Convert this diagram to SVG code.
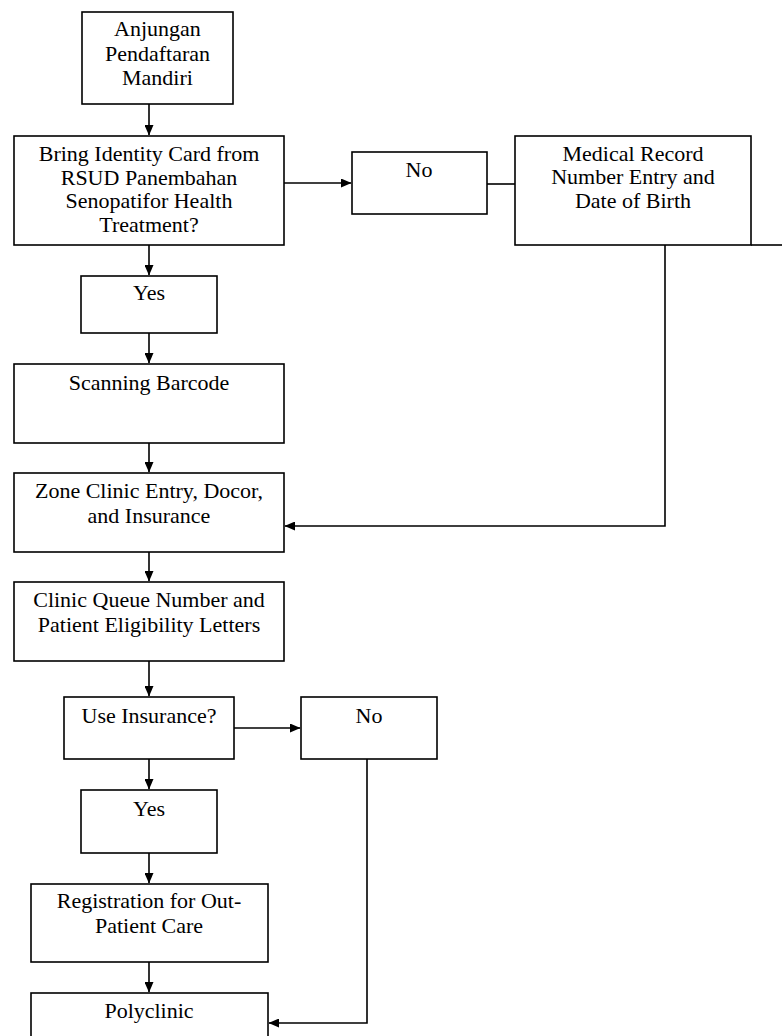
<svg xmlns="http://www.w3.org/2000/svg" width="782" height="1036" viewBox="0 0 782 1036">
<style>
.box{fill:#fff;stroke:#000;stroke-width:1.6}
.t{font-family:"Liberation Serif","Times New Roman",serif;font-size:22px;fill:#000;text-anchor:middle}
.c{fill:none;stroke:#000;stroke-width:1.6}
</style>
<defs>
<marker id="ah" markerUnits="userSpaceOnUse" markerWidth="11" markerHeight="9" refX="10" refY="4.5" orient="auto">
<path d="M0,0 L10.5,4.5 L0,9 z" fill="#000"/>
</marker>
</defs>
<rect width="782" height="1036" fill="#fff"/>
<g id="connectors">
<path class="c" d="M149,104 V135" marker-end="url(#ah)"/>
<path class="c" d="M284,183 H351" marker-end="url(#ah)"/>
<path class="c" d="M487,184 H515"/>
<path class="c" d="M751,245 H782"/>
<path class="c" d="M665,245 V526 H285" marker-end="url(#ah)"/>
<path class="c" d="M149,245 V275" marker-end="url(#ah)"/>
<path class="c" d="M149,333 V363" marker-end="url(#ah)"/>
<path class="c" d="M149,443 V472" marker-end="url(#ah)"/>
<path class="c" d="M149,552 V581" marker-end="url(#ah)"/>
<path class="c" d="M149,661 V696" marker-end="url(#ah)"/>
<path class="c" d="M234,728 H300" marker-end="url(#ah)"/>
<path class="c" d="M149,759 V789" marker-end="url(#ah)"/>
<path class="c" d="M149,853 V883" marker-end="url(#ah)"/>
<path class="c" d="M149,962 V992" marker-end="url(#ah)"/>
<path class="c" d="M367,759 V1023 H269" marker-end="url(#ah)"/>
</g>
<g id="n1"><rect class="box" x="82" y="12" width="151" height="92"/>
<text class="t" x="157.5" y="36">Anjungan</text><text class="t" x="157.5" y="61">Pendaftaran</text><text class="t" x="157.5" y="85">Mandiri</text></g>
<g id="n2"><rect class="box" x="14" y="136" width="270" height="109"/>
<text class="t" x="149" y="161">Bring Identity Card from</text><text class="t" x="149" y="185">RSUD Panembahan</text><text class="t" x="149" y="208">Senopatifor Health</text><text class="t" x="149" y="232">Treatment?</text></g>
<g id="n3"><rect class="box" x="352" y="152" width="135" height="62"/>
<text class="t" x="419" y="177">No</text></g>
<g id="n4"><rect class="box" x="515" y="136" width="236" height="109"/>
<text class="t" x="633" y="161">Medical Record</text><text class="t" x="633" y="184">Number Entry and</text><text class="t" x="633" y="208">Date of Birth</text></g>
<g id="n5"><rect class="box" x="81" y="276" width="136" height="57"/>
<text class="t" x="149" y="300">Yes</text></g>
<g id="n6"><rect class="box" x="14" y="364" width="270" height="79"/>
<text class="t" x="149" y="390">Scanning Barcode</text></g>
<g id="n7"><rect class="box" x="14" y="473" width="270" height="79"/>
<text class="t" x="149" y="498">Zone Clinic Entry, Docor,</text><text class="t" x="149" y="523">and Insurance</text></g>
<g id="n8"><rect class="box" x="14" y="582" width="270" height="79"/>
<text class="t" x="149" y="607">Clinic Queue Number and</text><text class="t" x="149" y="632">Patient Eligibility Letters</text></g>
<g id="n9"><rect class="box" x="64" y="697" width="170" height="62"/>
<text class="t" x="149" y="723">Use Insurance?</text></g>
<g id="n10"><rect class="box" x="301" y="697" width="136" height="62"/>
<text class="t" x="369" y="723">No</text></g>
<g id="n11"><rect class="box" x="81" y="790" width="136" height="63"/>
<text class="t" x="149" y="816">Yes</text></g>
<g id="n12"><rect class="box" x="31" y="884" width="237" height="78"/>
<text class="t" x="149" y="908">Registration for Out-</text><text class="t" x="149" y="933">Patient Care</text></g>
<g id="n13"><rect class="box" x="31" y="993" width="237" height="60"/>
<text class="t" x="149" y="1018">Polyclinic</text></g>
</svg>
